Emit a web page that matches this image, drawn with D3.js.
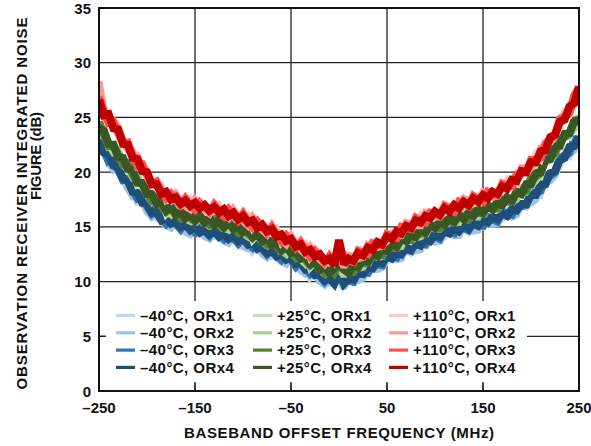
<!DOCTYPE html>
<html><head><meta charset="utf-8">
<script src="https://cdn.jsdelivr.net/npm/d3@7"></script>
<style>body{margin:0;background:#fff}svg{display:block;font-family:Arial,"Liberation Sans",sans-serif;font-weight:bold}</style>
</head><body><svg id="c" width="591" height="446"></svg>
<script>
const freq=[-250,-245,-240,-235,-230,-225,-220,-215,-210,-205,-200,-195,-190,-185,-180,-175,-170,-165,-160,-155,-150,-145,-140,-135,-130,-125,-120,-115,-110,-105,-100,-95,-90,-85,-80,-75,-70,-65,-60,-55,-50,-45,-40,-35,-30,-25,-20,-15,-10,-5,0,5,10,15,20,25,30,35,40,45,50,55,60,65,70,75,80,85,90,95,100,105,110,115,120,125,130,135,140,145,150,155,160,165,170,175,180,185,190,195,200,205,210,215,220,225,230,235,240,245,250];

const m40_orx1=[22.4,22.3,20.8,20.9,20.2,19.1,18.7,18.7,17.3,17.5,16.9,16.0,15.8,16.1,15.0,15.6,15.3,14.7,14.7,15.2,14.2,14.8,14.6,14.0,14.1,14.6,13.6,14.2,14.0,13.4,13.4,13.9,12.8,13.3,13.0,12.3,12.3,12.8,11.7,12.3,12.0,11.3,11.2,11.6,10.4,10.9,10.5,9.8,9.8,10.3,10.2,10.1,10.1,9.9,10.3,11.2,10.5,11.5,11.6,11.4,11.8,12.6,11.9,12.8,12.9,12.6,13.0,13.8,13.1,14.0,14.1,13.8,14.1,14.9,14.1,14.9,14.9,14.5,14.8,15.6,14.8,15.7,15.7,15.4,15.7,16.5,15.8,16.8,16.9,16.8,17.4,18.4,18.0,19.2,19.7,19.8,20.6,21.8,21.5,22.7,23.0];
const m40_orx2=[22.9,21.9,20.9,20.2,20.4,19.5,18.5,17.8,18.1,17.3,16.4,15.9,16.3,15.7,15.1,14.9,15.5,15.0,14.5,14.3,15.0,14.6,14.1,13.9,14.6,14.2,13.7,13.5,14.2,13.7,13.2,13.0,13.6,13.1,12.5,12.2,12.8,12.3,11.8,11.6,12.2,11.6,11.0,10.7,11.2,10.6,10.0,9.7,10.3,9.9,10.3,9.4,10.3,10.2,10.1,10.3,11.3,11.2,11.1,11.3,12.3,12.2,12.0,12.1,13.1,13.0,12.8,12.9,13.9,13.8,13.6,13.7,14.6,14.4,14.2,14.2,15.1,14.9,14.6,14.7,15.6,15.4,15.2,15.3,16.2,16.1,15.9,16.1,17.1,17.2,17.2,17.5,18.8,19.0,19.2,19.7,21.1,21.4,21.6,22.0,23.2];
const m40_orx3=[23.0,22.0,21.0,21.2,20.2,19.3,19.4,18.4,17.6,17.8,16.9,16.2,16.5,15.8,15.3,15.8,15.3,14.8,15.4,14.9,14.5,15.1,14.6,14.2,14.8,14.3,13.9,14.5,14.0,13.5,14.1,13.5,13.1,13.6,13.0,12.5,13.0,12.4,12.0,12.5,12.0,11.4,11.9,11.2,10.7,11.1,10.5,10.0,10.5,10.0,10.5,10.4,10.1,10.0,11.0,10.8,10.8,11.7,11.6,11.5,12.5,12.3,12.2,13.1,12.9,12.8,13.7,13.5,13.4,14.3,14.1,13.9,14.8,14.5,14.4,15.2,14.9,14.7,15.5,15.2,15.1,15.9,15.7,15.5,16.4,16.2,16.1,17.0,16.9,17.0,18.1,18.1,18.3,19.5,19.7,20.0,21.3,21.5,21.8,23.0,23.0];
const m40_orx4=[22.9,21.8,21.6,20.6,20.4,19.4,19.2,18.2,18.1,17.2,17.1,16.3,16.3,15.6,15.8,15.3,15.5,15.0,15.2,14.7,15.0,14.5,14.8,14.3,14.6,14.1,14.4,13.9,14.2,13.7,13.9,13.4,13.6,13.0,13.2,12.6,12.8,12.3,12.5,12.0,12.2,11.6,11.7,11.1,11.2,10.6,10.7,10.1,10.3,9.8,10.8,9.8,10.3,10.2,10.8,10.7,11.3,11.2,11.8,11.7,12.3,12.1,12.7,12.5,13.1,12.9,13.5,13.3,13.9,13.7,14.3,14.1,14.6,14.4,14.9,14.6,15.1,14.8,15.3,15.1,15.6,15.4,15.9,15.7,16.2,16.0,16.6,16.5,17.1,17.1,17.9,17.9,18.8,18.9,19.9,20.1,21.1,21.3,22.3,22.4,23.2];

const p25_orx1=[24.0,23.9,22.3,22.4,21.7,20.6,20.3,20.3,18.8,18.9,18.3,17.3,17.1,17.4,16.2,16.7,16.4,15.8,15.8,16.3,15.3,15.9,15.7,15.1,15.2,15.7,14.7,15.3,15.1,14.5,14.5,14.9,13.8,14.3,14.0,13.3,13.3,13.7,12.6,13.2,12.9,12.2,12.1,12.5,11.3,11.8,11.4,10.8,10.8,11.3,11.5,11.1,11.1,10.9,11.3,12.2,11.5,12.5,12.6,12.4,12.8,13.6,12.9,13.9,14.0,13.7,14.1,14.9,14.2,15.1,15.2,14.9,15.2,16.0,15.2,16.0,16.0,15.7,16.0,16.8,16.0,16.9,16.9,16.6,17.0,17.8,17.1,18.1,18.3,18.2,18.9,20.0,19.7,21.0,21.5,21.6,22.4,23.6,23.3,24.5,24.9];
const p25_orx2=[24.6,23.6,22.5,21.8,22.0,21.1,20.2,19.5,19.7,18.8,17.9,17.3,17.7,17.1,16.4,16.1,16.7,16.3,15.7,15.5,16.2,15.8,15.3,15.1,15.8,15.4,14.9,14.7,15.4,15.0,14.4,14.1,14.7,14.2,13.6,13.3,13.9,13.4,12.8,12.5,13.2,12.7,12.0,11.6,12.2,11.7,11.0,10.7,11.4,11.0,11.3,10.5,11.4,11.4,11.2,11.3,12.4,12.4,12.2,12.3,13.4,13.3,13.1,13.2,14.3,14.2,14.0,14.1,15.1,15.0,14.8,14.8,15.8,15.7,15.4,15.4,16.3,16.2,15.9,15.9,16.9,16.8,16.5,16.6,17.6,17.5,17.3,17.5,18.6,18.7,18.8,19.2,20.6,20.9,21.1,21.6,23.0,23.3,23.5,23.9,25.2];
const p25_orx3=[24.6,23.4,22.4,22.5,21.5,20.7,20.8,19.8,19.0,19.0,18.1,17.4,17.6,16.9,16.4,16.8,16.2,15.8,16.3,15.8,15.5,16.0,15.5,15.2,15.7,15.2,14.9,15.4,14.9,14.5,15.0,14.4,14.0,14.4,13.8,13.4,13.8,13.2,12.8,13.3,12.7,12.2,12.6,12.0,11.5,11.9,11.2,10.8,11.3,10.8,11.6,11.2,10.9,10.9,11.8,11.7,11.7,12.6,12.4,12.4,13.3,13.1,13.1,14.0,13.8,13.8,14.6,14.4,14.4,15.2,15.0,14.9,15.7,15.5,15.4,16.1,15.8,15.7,16.5,16.3,16.2,17.0,16.7,16.7,17.5,17.3,17.3,18.2,18.1,18.3,19.5,19.6,19.9,21.2,21.4,21.7,23.0,23.2,23.5,24.7,24.8];
const p25_orx4=[24.0,23.8,22.6,22.5,21.4,21.3,20.3,20.2,19.1,19.0,18.0,18.0,17.1,17.3,16.5,16.8,16.1,16.4,15.8,16.2,15.6,16.0,15.4,15.8,15.2,15.6,15.0,15.4,14.8,15.1,14.5,14.8,14.1,14.4,13.7,14.0,13.3,13.6,12.9,13.2,12.6,12.8,12.1,12.3,11.6,11.8,11.1,11.4,10.8,11.2,11.9,11.1,10.8,11.5,11.3,12.0,11.8,12.5,12.3,13.0,12.8,13.5,13.2,13.9,13.7,14.4,14.1,14.8,14.5,15.2,14.9,15.5,15.2,15.8,15.5,16.1,15.7,16.3,16.0,16.6,16.3,16.9,16.6,17.3,17.0,17.7,17.4,18.2,18.0,18.9,18.9,19.9,20.0,21.1,21.2,22.3,22.4,23.5,23.6,24.6,24.7];

const p110_orx1=[27.5,26.0,24.4,24.4,23.7,22.5,22.1,22.0,20.5,20.6,19.9,18.8,18.5,18.7,17.5,17.9,17.6,16.9,17.0,17.5,16.5,17.1,16.9,16.3,16.4,16.9,15.9,16.5,16.2,15.6,15.6,16.0,14.9,15.4,15.1,14.4,14.4,14.8,13.6,14.1,13.8,13.1,13.0,13.4,12.2,12.7,12.4,11.7,11.7,12.2,12.9,12.0,12.0,11.8,12.2,13.1,12.4,13.4,13.5,13.3,13.7,14.6,13.9,14.9,15.0,14.8,15.2,16.0,15.3,16.2,16.3,16.0,16.3,17.1,16.3,17.2,17.2,16.9,17.2,18.0,17.2,18.1,18.1,17.9,18.3,19.2,18.6,19.7,20.0,19.9,20.5,21.6,21.2,22.5,23.1,23.3,24.2,25.5,25.3,26.8,27.6];
const p110_orx2=[28.3,25.7,24.6,24.7,24.1,23.0,22.0,21.8,21.5,20.5,19.5,19.0,19.2,18.4,17.7,17.4,18.0,17.4,16.9,16.6,17.5,17.0,16.5,16.2,17.1,16.6,16.1,15.8,16.6,16.0,15.5,15.1,15.9,15.3,14.7,14.3,15.1,14.4,13.8,13.4,14.2,13.5,12.9,12.5,13.2,12.6,12.0,11.6,12.4,11.8,12.6,11.3,12.4,12.3,12.1,12.2,13.4,13.3,13.1,13.2,14.4,14.3,14.1,14.2,15.4,15.3,15.1,15.1,16.3,16.1,15.9,15.9,17.0,16.8,16.5,16.6,17.6,17.4,17.1,17.2,18.2,18.0,17.7,17.8,19.0,18.9,18.8,19.0,20.4,20.4,20.4,20.8,22.2,22.4,22.7,23.3,24.9,25.3,25.5,26.2,27.9];
const p110_orx3=[26.9,25.5,24.5,24.6,23.6,22.6,22.7,21.5,20.6,20.7,19.8,18.9,19.1,18.2,17.6,18.0,17.5,17.0,17.6,17.0,16.6,17.2,16.8,16.4,17.0,16.4,16.0,16.6,16.1,15.6,16.2,15.5,15.0,15.5,15.0,14.5,15.0,14.3,13.7,14.2,13.7,13.1,13.6,12.9,12.3,12.8,12.3,11.8,12.3,11.7,13.4,12.1,11.9,11.8,12.8,12.6,12.5,13.5,13.4,13.3,14.3,14.1,14.0,15.0,14.9,14.8,15.8,15.5,15.4,16.3,16.2,16.0,16.9,16.6,16.4,17.3,17.1,16.9,17.8,17.5,17.3,18.2,18.0,17.9,18.9,18.7,18.7,19.8,19.9,20.0,21.1,21.1,21.3,22.6,23.0,23.4,24.8,25.0,25.4,27.0,27.7];
const p110_orx4=[26.6,25.2,25.3,24.0,23.9,22.6,22.5,21.3,21.2,20.1,20.0,18.9,18.9,18.0,18.2,17.5,17.7,17.1,17.4,16.9,17.2,16.7,17.0,16.5,16.8,16.3,16.6,16.0,16.3,15.7,16.0,15.4,15.6,14.9,15.2,14.6,14.8,14.1,14.3,13.7,13.9,13.2,13.4,12.7,12.9,12.3,12.5,11.9,12.1,11.5,13.8,11.6,12.1,11.9,12.6,12.4,13.1,12.9,13.6,13.4,14.1,13.9,14.6,14.4,15.1,14.9,15.6,15.4,16.0,15.8,16.4,16.1,16.7,16.4,17.0,16.7,17.3,17.0,17.6,17.3,17.9,17.6,18.2,18.0,18.7,18.5,19.3,19.2,20.1,20.0,20.9,20.9,21.9,22.0,23.2,23.4,24.6,24.8,26.0,26.3,27.8];

const seriesNames=["\u201340\u00B0C, ORx1","\u201340\u00B0C, ORx2","\u201340\u00B0C, ORx3","\u201340\u00B0C, ORx4",
"+25\u00B0C, ORx1","+25\u00B0C, ORx2","+25\u00B0C, ORx3","+25\u00B0C, ORx4",
"+110\u00B0C, ORx1","+110\u00B0C, ORx2","+110\u00B0C, ORx3","+110\u00B0C, ORx4"];
const seriesValues=[m40_orx1,m40_orx2,m40_orx3,m40_orx4,p25_orx1,p25_orx2,p25_orx3,p25_orx4,p110_orx1,p110_orx2,p110_orx3,p110_orx4];
const seriesColors=["#bdd7ee","#9dc3e6","#2e75b6","#1f4e79","#c5e0b4","#a9d18e","#548235","#385723","#ffc7c7","#ff9999","#ff5050","#c00000"];
const xTicks=[-250,-150,-50,50,150,250];
const yTicks=[0,5,10,15,20,25,30,35];
const xTitle="BASEBAND OFFSET FREQUENCY (MHz)";
const yTitle1="OBSERVATION RECEIVER INTEGRATED NOISE";
const yTitle2="FIGURE (dB)";

const L=99,R=579,T=8,B=391;
const svg=d3.select("#c");
const x=d3.scaleLinear().domain([-250,250]).range([L,R]);
const y=d3.scaleLinear().domain([0,35]).range([B,T]);

// grid
const g=svg.append("g");
g.selectAll("line.gy").data(yTicks.filter(v=>v>0&&v<35)).enter().append("line")
 .attr("x1",L).attr("x2",R).attr("y1",d=>y(d)).attr("y2",d=>y(d)).attr("stroke","#222").attr("stroke-width",1.3);
g.selectAll("line.gx").data(xTicks.filter(v=>v>-250&&v<250)).enter().append("line")
 .attr("y1",T).attr("y2",B).attr("x1",d=>x(d)).attr("x2",d=>x(d)).attr("stroke","#222").attr("stroke-width",1.3);

// series
svg.append("clipPath").attr("id","pc").append("rect").attr("x",L).attr("y",T).attr("width",R-L).attr("height",B-T);
const line=d3.line().x((d,i)=>x(freq[i])).y(d=>y(d));
svg.append("g").attr("clip-path","url(#pc)").selectAll("path").data(seriesValues).enter().append("path")
 .attr("d",d=>line(d)).attr("fill","none").attr("stroke",(d,i)=>seriesColors[i])
 .attr("stroke-width",(d,i)=>i%4<2?7:8).attr("stroke-linejoin","miter").attr("stroke-miterlimit",2);

// legend box
svg.append("rect").attr("x",105).attr("y",301).attr("width",422).attr("height",81).attr("fill","#fff");
svg.append("g").selectAll("line").data(xTicks.filter(v=>v>-250&&v<250)).enter().append("line")
 .attr("x1",d=>x(d)).attr("x2",d=>x(d)).attr("y1",B-8).attr("y2",B).attr("stroke","#222").attr("stroke-width",1.3);
svg.append("line").attr("x1",L).attr("x2",L+7).attr("y1",y(5)).attr("y2",y(5)).attr("stroke","#222").attr("stroke-width",1.3);

const leg=svg.append("g").attr("font-size",15).attr("letter-spacing",0.45);
const colX=[116,253,389];
seriesNames.forEach((n,i)=>{
  const c=Math.floor(i/4), r=i%4;
  const yy=315.5+r*17.3;
  leg.append("line").attr("x1",colX[c]).attr("x2",colX[c]+19).attr("y1",yy).attr("y2",yy)
    .attr("stroke",seriesColors[i]).attr("stroke-width",3.2);
  leg.append("text").attr("x",colX[c]+24).attr("y",yy+5.3).text(n).attr("fill","#111");
});

// frame
svg.append("rect").attr("x",L).attr("y",T).attr("width",R-L).attr("height",B-T).attr("fill","none").attr("stroke","#111").attr("stroke-width",2);

// tick labels
svg.append("g").selectAll("text").data(yTicks).enter().append("text")
 .attr("x",91).attr("y",d=>y(d)+5.5).attr("text-anchor","end").attr("font-size",15).text(d=>d).attr("fill","#111");
svg.append("g").selectAll("text").data(xTicks).enter().append("text")
 .attr("x",d=>x(d)).attr("y",413).attr("text-anchor","middle").attr("font-size",15)
 .text(d=>d<0?"\u2013"+Math.abs(d):d).attr("fill","#111");

svg.append("text").attr("x",(L+R)/2).attr("y",438).attr("text-anchor","middle").attr("font-size",15)
 .attr("textLength",310).attr("lengthAdjust","spacing").text(xTitle).attr("fill","#111");
svg.append("text").attr("transform","translate(27,203.5) rotate(-90)").attr("text-anchor","middle").attr("font-size",15)
 .attr("textLength",372).attr("lengthAdjust","spacing").text(yTitle1).attr("fill","#111");
svg.append("text").attr("transform","translate(41,156) rotate(-90)").attr("text-anchor","middle").attr("font-size",15)
 .attr("textLength",88).attr("lengthAdjust","spacing").text(yTitle2).attr("fill","#111");
</script></body></html>
